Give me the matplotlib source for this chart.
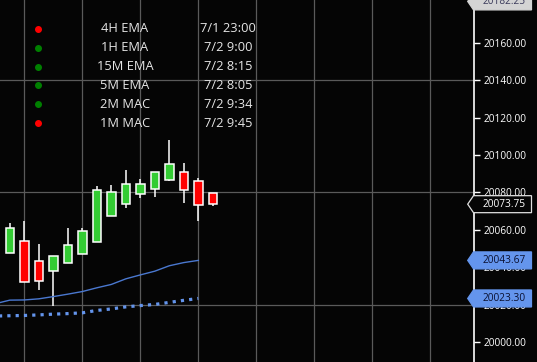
import matplotlib
matplotlib.use("Agg")
import matplotlib.pyplot as plt
import matplotlib.transforms as mtransforms
from matplotlib.patches import Polygon
import numpy as np

plt.rcParams['font.family'] = ['Open Sans', 'DejaVu Sans']

# candle data (one bar per period)
opens = [20047.6, 20054.0, 20043.3, 20037.9, 20042.2, 20047.0, 20053.5, 20067.4,
         20073.8, 20079.2, 20081.9, 20086.7, 20091.0, 20086.2, 20079.7]
closes = [20061.0, 20032.0, 20032.5, 20046.0, 20051.8, 20059.4, 20081.3, 20080.3,
          20084.6, 20084.6, 20091.0, 20095.3, 20081.3, 20073.3, 20073.75]
highs = [20063.8, 20064.9, 20052.5, 20046.0, 20061.1, 20061.0, 20083.6, 20084.2,
         20092.2, 20087.2, 20091.0, 20108.3, 20096.0, 20087.9, 20079.7]
lows = [20047.6, 20032.0, 20028.0, 20019.5, 20042.2, 20047.0, 20053.5, 20067.4,
        20071.5, 20076.8, 20077.4, 20086.0, 20074.2, 20064.5, 20073.0]

# moving averages, starting one bar before the first candle
ma_solid = [20020.5, 20022.4, 20022.5, 20023.1, 20024.3, 20025.6, 20027.0, 20029.0,
            20030.8, 20033.8, 20035.9, 20037.9, 20040.8, 20042.5, 20043.67]
ma_dotted = [20013.9, 20014.05, 20014.2, 20014.5, 20014.9, 20015.2, 20015.6, 20016.9,
             20017.7, 20018.8, 20019.5, 20020.1, 20021.2, 20022.3, 20023.3]

# signal table
sig_names = ["4H EMA", "1H EMA", "15M EMA", "5M EMA", "2M MAC", "1M MAC"]
sig_times = ["7/1 23:00", "7/2 9:00", "7/2 8:15", "7/2 8:05", "7/2 9:34", "7/2 9:45"]
sig_colors = ["#ff0000", "#008000", "#008000", "#008000", "#008000", "#ff0000"]

y_ticks = [20000, 20020, 20040, 20060, 20080, 20100, 20120, 20140, 20160]
grid_levels = [20020, 20080, 20140]
top_price = 20182.25

bg = '#050505'
fig = plt.figure(figsize=(5.37, 3.62), dpi=100, facecolor=bg)
ax = fig.add_axes([0, 0, 474 / 537, 1])
ax.set_facecolor(bg)

ymin, ymax = 19989.3, 20183.0
ax.set_ylim(ymin, ymax)
ax.set_xlim(-0.676, 32.01)

# grid
ax.set_xticks(np.arange(1, 33, 4))
ax.tick_params(axis='x', length=0, labelbottom=False)
ax.grid(axis='x', color='#5a5a5a', linewidth=0.9)
for g in grid_levels:
    ax.axhline(g, color='#5a5a5a', linewidth=0.9, zorder=0.5)

# right price axis
for side in ['top', 'bottom', 'left']:
    ax.spines[side].set_visible(False)
ax.spines['right'].set_color('white')
ax.spines['right'].set_linewidth(1.2)
ax.yaxis.tick_right()
ax.set_yticks(y_ticks)
ax.set_yticklabels([f"{v:.2f}" for v in y_ticks])
ax.tick_params(axis='y', colors='white', length=4, width=1, pad=3, labelsize=7.3)

# candles
idx = np.arange(len(opens))
o = np.array(opens)
c = np.array(closes)
up = c >= o
colors = np.where(up, '#33cc33', '#ff0000')
ax.vlines(idx, lows, highs, color='white', linewidth=1.1, zorder=2)
ax.bar(idx, np.abs(c - o), bottom=np.minimum(o, c), width=0.58, color=colors,
       edgecolor='white', linewidth=1.1, zorder=3)

# moving averages
ma_x = np.arange(-1, len(ma_solid) - 1)
ax.plot(ma_x, ma_solid, color='#4a78d0', linewidth=1.0, zorder=2)
ax.plot(ma_x, ma_dotted, color='#6495ed', linewidth=2.3, linestyle=(0, (1, 1.6)),
        dash_capstyle='butt', zorder=2)

# signal table
for i, (name, t, col) in enumerate(zip(sig_names, sig_times, sig_colors)):
    yy = 1 - (29 + 18.8 * i) / 362
    ax.plot([38 / 474], [yy], 'o', color=col, markersize=4, transform=ax.transAxes,
            clip_on=False, zorder=5)
    ax.text(125 / 474, yy, name, color='#e6e6e6', fontsize=9.3, ha='center', va='center',
            transform=ax.transAxes)
    ax.text(228 / 474, yy, t, color='#e6e6e6', fontsize=9.3, ha='center', va='center',
            transform=ax.transAxes)

# price tags on the axis
trans = mtransforms.blended_transform_factory(ax.transAxes, ax.transData)
per_px = (ymax - ymin) / 362
h = 8.5 * per_px
x_tip, x_sh, x_r = 467.7 / 474, 473.5 / 474, 531.5 / 474


def draw_tag(y, face, edge, tcolor):
    pts = [(x_tip, y), (x_sh, y + h), (x_r, y + h), (x_r, y - h), (x_sh, y - h)]
    ax.add_patch(Polygon(pts, closed=True, facecolor=face, edgecolor=edge,
                         linewidth=0.9, transform=trans, clip_on=False, zorder=10))
    ax.text(483 / 474, y, f"{y:.2f}", color=tcolor, fontsize=7.3, ha='left',
            va='center', transform=trans, clip_on=False, zorder=11)


draw_tag(top_price, '#d4d4d4', '#d4d4d4', '#3a3a5a')
draw_tag(closes[-1], bg, '#e0e0e0', 'white')
draw_tag(ma_solid[-1], '#6495ed', '#6495ed', '#0a1030')
draw_tag(ma_dotted[-1], '#6495ed', '#6495ed', '#0a1030')

fig.savefig("out.png", dpi=100, facecolor=bg)
